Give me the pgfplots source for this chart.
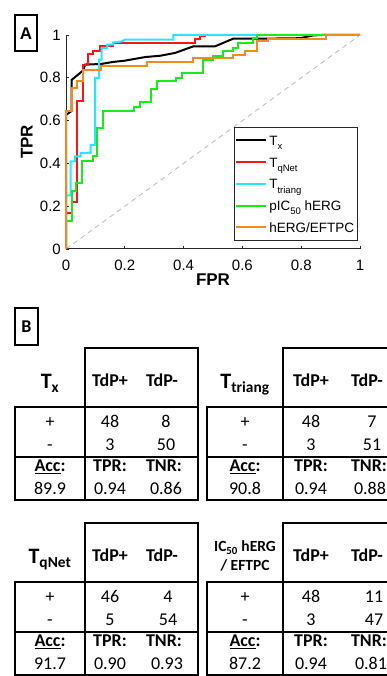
\documentclass[border=0pt]{standalone}
\usepackage{fontspec}
\setmainfont{Liberation Sans}
\newfontfamily\calfont{Carlito}
\usepackage{pgfplots}
\pgfplotsset{compat=1.18}
\definecolor{cred}{RGB}{250,20,20}
\definecolor{ccyan}{RGB}{40,230,255}
\definecolor{cgreen}{RGB}{25,235,25}
\definecolor{corange}{RGB}{240,140,30}
\newcommand\msub[1]{\raisebox{-0.32em}{\fontsize{9.5}{9.5}\selectfont #1}}
\newcommand\tf{\calfont\fontsize{18}{18}\selectfont}
\newcommand\tframe[3]{%
  \draw (#2,500) -- (#2,348) -- (#3,348) -- (#3,500) -- (#1,500) -- (#1,407) -- (#3,407);
  \draw (#1,457) -- (#3,457);}
\newcommand\thead[3]{%
  \node[anchor=base,font=\tf\bfseries] at (#1,387) {TdP+};
  \node[anchor=base,font=\tf\bfseries] at (#2,387) {TdP-};
  \node[anchor=base,font=\tf] at (#3,428) {+};
  \node[anchor=base,font=\tf] at (#3,451) {-};
  \node[anchor=base,font=\tf\bfseries] at (#3,472) {\underline{Acc}:};
  \node[anchor=base,font=\tf\bfseries] at (#1,472) {TPR:};
  \node[anchor=base,font=\tf\bfseries] at (#2+2,472) {TNR:};}
\newcommand\tvals[9]{% c2 c3 lc a b c d acc tpr
  \node[anchor=base,font=\tf] at (#1,428) {#4};
  \node[anchor=base,font=\tf] at (#2,428) {#5};
  \node[anchor=base,font=\tf] at (#1,451) {#6};
  \node[anchor=base,font=\tf] at (#2,451) {#7};
  \node[anchor=base,font=\tf] at (#3,495) {#8};
  \node[anchor=base,font=\tf] at (#1,495) {#9};}
\newcommand\ttnr[2]{\node[anchor=base,font=\tf] at (#1,495) {#2};}
\begin{document}
\begin{tikzpicture}[x=1pt,y=1pt]
\useasboundingbox (0,0) rectangle (387,676);
\begin{axis}[
  at={(66pt,427pt)}, anchor=south west,
  scale only axis, width=294pt, height=214pt,
  xmin=0, xmax=1, ymin=0, ymax=1,
  axis lines*=left,
  axis line style={black!85, line width=1pt},
  xtick={0,0.2,0.4,0.6,0.8,1}, ytick={0,0.2,0.4,0.6,0.8,1},
  tick align=inside, major tick length=3pt,
  tick style={black!85, line width=0.7pt},
  tick label style={font=\fontsize{15}{15}\selectfont},
  /pgf/number format/assume math mode=true,
  xticklabel style={inner sep=0pt, anchor=north, yshift=-11pt},
  yticklabel style={inner sep=0pt, anchor=east, xshift=-5pt},
  xlabel={FPR}, ylabel={TPR},
  label style={font=\fontsize{17}{17}\selectfont\bfseries},
  xlabel style={at={(axis description cs:0.5,-0.145)}, anchor=center},
  ylabel style={at={(axis description cs:-0.133,0.5)}, anchor=center},
  clip=false,
  legend cell align=left,
  legend style={at={(0.571,0.570)}, anchor=north west, draw=black!85,
    line width=0.9pt, font=\fontsize{13.5}{13.5}\selectfont,
    inner xsep=1pt, inner ysep=8pt, row sep=11.7pt,
    nodes={inner xsep=2pt, inner ysep=0pt, text height=10pt, text depth=0pt}},
  legend image code/.code={\draw[#1] (0pt,0pt) -- (30pt,0pt);},
]
\addplot[gray!55, line width=0.8pt, dash pattern=on 5pt off 4pt, forget plot] coordinates {(0,0) (1,1)};
\addplot[black, line width=2pt] coordinates {
(0,0) (0,0.626) (0.019,0.645) (0.019,0.79) (0.059,0.835) (0.065,0.862) (0.116,0.864)
(0.16,0.874) (0.2,0.88) (0.27,0.897) (0.32,0.903) (0.371,0.916) (0.433,0.947)
(0.507,0.947) (0.569,0.983) (0.683,0.983) (0.796,0.985) (0.841,0.998) (0.87,1) (1,1)};
\addlegendentry{T\msub{x}}
\addplot[cred, line width=2pt] coordinates {
(0,0) (0,0.17) (0.019,0.17) (0.019,0.22) (0.039,0.22) (0.039,0.69) (0.057,0.69)
(0.057,0.86) (0.076,0.86) (0.076,0.91) (0.093,0.91) (0.093,0.925) (0.116,0.925)
(0.116,0.947) (0.16,0.947) (0.16,0.963) (0.44,0.963) (0.44,0.98) (0.456,0.98)
(0.456,0.993) (0.473,0.993) (0.473,1.0)};
\addlegendentry{T\msub{qNet}}
\addplot[ccyan, line width=2pt] coordinates {
(0,0) (0,0.25) (0.016,0.25) (0.016,0.41) (0.031,0.41) (0.031,0.433) (0.05,0.433)
(0.05,0.449) (0.084,0.449) (0.084,0.487) (0.099,0.487) (0.099,0.80) (0.113,0.80)
(0.113,0.885) (0.121,0.885) (0.121,0.94) (0.14,0.94) (0.14,0.955) (0.16,0.955)
(0.16,0.965) (0.19,0.97) (0.2,0.978) (0.365,0.978) (0.365,1) (1,1)};
\addlegendentry{T\msub{triang}}
\addplot[cgreen, line width=2pt] coordinates {
(0,0) (0,0.13) (0.019,0.13) (0.019,0.27) (0.034,0.27) (0.034,0.31) (0.053,0.31)
(0.053,0.41) (0.091,0.41) (0.091,0.433) (0.104,0.433) (0.104,0.565) (0.125,0.565)
(0.125,0.646) (0.231,0.646) (0.231,0.663) (0.252,0.663) (0.252,0.687) (0.288,0.687)
(0.288,0.748) (0.308,0.748) (0.308,0.784) (0.374,0.784) (0.374,0.80) (0.393,0.80)
(0.393,0.822) (0.467,0.822) (0.467,0.885) (0.50,0.885) (0.50,0.90) (0.535,0.90)
(0.535,0.924) (0.569,0.924) (0.569,0.939) (0.585,0.939) (0.585,0.963) (0.637,0.963)
(0.637,0.986) (0.649,0.986) (0.649,1) (1,1)};
\addlegendentry{pIC\msub{50} hERG}
\addplot[corange, line width=2pt] coordinates {
(0,0) (0,0.643) (0.019,0.643) (0.019,0.752) (0.039,0.752) (0.039,0.787) (0.059,0.787)
(0.059,0.835) (0.118,0.835) (0.118,0.854) (0.274,0.854) (0.274,0.872) (0.433,0.872)
(0.433,0.893) (0.569,0.893) (0.569,0.908) (0.609,0.908) (0.609,0.927) (0.649,0.927)
(0.649,0.97) (0.688,0.97) (0.688,0.983) (0.884,0.983) (0.884,1) (1,1)};
\addlegendentry{hERG/EFTPC}
\end{axis}
\begin{scope}[shift={(0,676)}, y=-1pt, line width=1.2pt]
  \draw (15,15) rectangle (37,51);
  \node[font=\normalfont\fontsize{17}{17}\selectfont\bfseries] at (26,34) {A};
  \draw (15,308) rectangle (38,345);
  \node[font=\calfont\fontsize{18}{18}\selectfont\bfseries] at (26.5,327) {B};
  % top-left
  \tframe{15}{85}{198}
  \thead{110}{162}{50}
  \node[anchor=base,font=\calfont\fontsize{22}{22}\selectfont\bfseries] at (50,389) {T\textsubscript{x}};
  \tvals{110}{166}{50}{48}{8}{3}{50}{89.9}{0.94}
  \ttnr{166}{0.86}
  % top-right
  \tframe{207}{283}{430}
  \thead{311}{367}{245}
  \node[anchor=base,font=\calfont\fontsize{22}{22}\selectfont\bfseries] at (245,389) {T\textsubscript{triang}};
  \tvals{311}{372}{245}{48}{7}{3}{51}{90.8}{0.94}
  \ttnr{370}{0.88}
  \begin{scope}[shift={(0,175)}]
  % bottom-left
  \tframe{15}{85}{198}
  \thead{110}{162}{50}
  \node[anchor=base,font=\calfont\fontsize{22}{22}\selectfont\bfseries] at (50,389) {T\textsubscript{qNet}};
  \tvals{110}{168}{50}{46}{4}{5}{54}{91.7}{0.90}
  \ttnr{167}{0.93}
  % bottom-right
  \tframe{207}{283}{430}
  \thead{311}{367}{245}
  \node[anchor=base,font=\calfont\fontsize{15.5}{15.5}\selectfont\bfseries] at (245,377) {IC\textsubscript{50} hERG};
  \node[anchor=base,font=\calfont\fontsize{15.5}{15.5}\selectfont\bfseries] at (245,396) {/ EFTPC};
  \tvals{311}{374}{245}{48}{11}{3}{47}{87.2}{0.94}
  \ttnr{371}{0.81}
  \end{scope}
\end{scope}
\end{tikzpicture}
\end{document}
